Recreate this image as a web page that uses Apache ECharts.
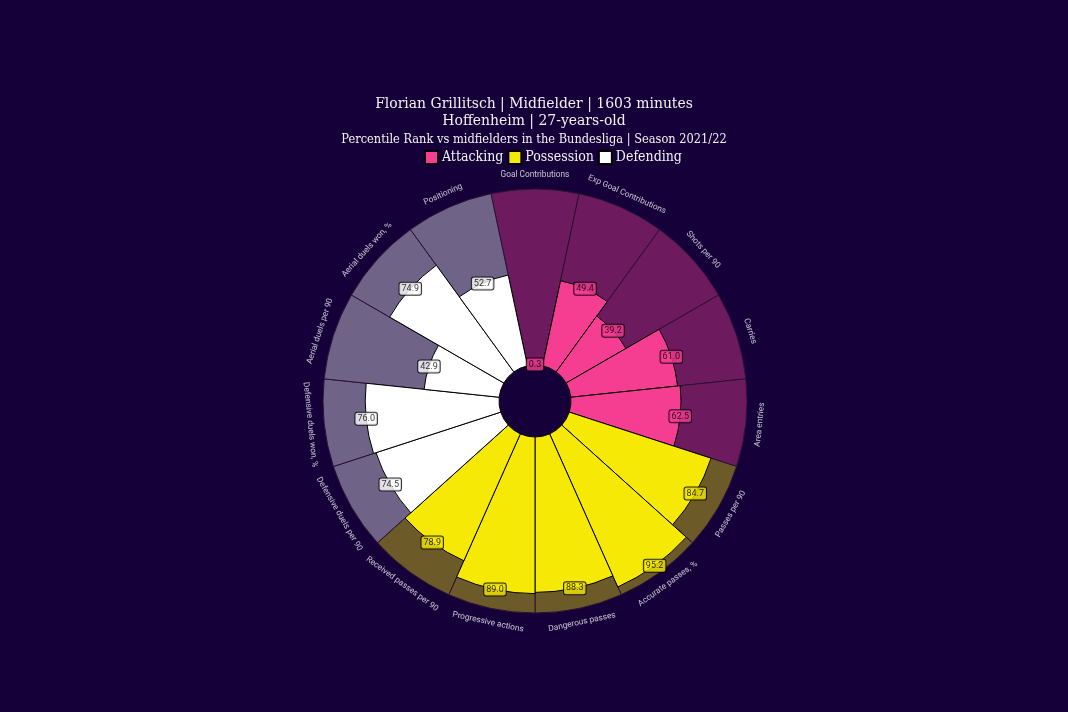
<!DOCTYPE html>
<html>
<head>
<meta charset="utf-8">
<script src="https://cdn.jsdelivr.net/npm/echarts@6/dist/echarts.min.js"></script>
<style>
html,body{margin:0;padding:0;background:#15003a;}
#chart{width:1068px;height:712px;}
</style>
</head>
<body>
<div id="chart"></div>
<script>
const categories = ['Goal Contributions','Exp Goal Contributions','Shots per 90','Carries','Area entries',
  'Passes per 90','Accurate passes, %','Dangerous passes','Progressive actions','Received passes per 90',
  'Defensive duels per 90','Defensive duels won, %','Aerial duels per 90','Aerial duels won, %','Positioning'];
const values = [0.3, 49.4, 39.2, 61.0, 62.5, 84.7, 95.2, 88.3, 89.0, 78.9, 74.5, 76.0, 42.9, 74.9, 52.7];
const groups = ['Attacking','Attacking','Attacking','Attacking','Attacking',
  'Possession','Possession','Possession','Possession','Possession',
  'Defending','Defending','Defending','Defending','Defending'];
const groupNames = ['Attacking','Possession','Defending'];
const titleLine1 = 'Florian Grillitsch | Midfielder | 1603 minutes';
const titleLine2 = 'Hoffenheim | 27-years-old';
const subtitle = 'Percentile Rank vs midfielders in the Bundesliga | Season 2021/22';

const BG = '#15003a';
const mainColor = {Attacking:'#f53d92', Possession:'#f6e906', Defending:'#ffffff'};
const backColor = {Attacking:'#6d1a5e', Possession:'#6c5a28', Defending:'#6f6488'};
const serif = "'DejaVu Serif Condensed','DejaVu Serif',serif";

const chart = echarts.init(document.getElementById('chart'), null, {renderer:'canvas'});

const n = categories.length;
const step = 360 / n;

const bgSeries = {
  type:'bar', coordinateSystem:'polar', name:'bg', z:1, silent:true,
  barCategoryGap:'0%', barGap:'-100%',
  data: categories.map((c,i)=>({value:100, itemStyle:{color:backColor[groups[i]], borderColor:'#2a1233', borderWidth:1}}))
};
const valSeries = groupNames.map(g=>({
  type:'bar', coordinateSystem:'polar', name:g, stack:'v', z:2, silent:true,
  barCategoryGap:'0%', barGap:'-100%',
  itemStyle:{color:mainColor[g], borderColor:'#000000', borderWidth:1},
  data: values.map((v,i)=> groups[i]===g ? v : '-')
}));

const valueLabels = {
  type:'scatter', coordinateSystem:'polar', z:5, silent:true, clip:false,
  symbolSize:0.01, itemStyle:{color:'rgba(0,0,0,0)'},
  data: values.map((v,i)=>({
    value:[v, categories[i]],
    label:{show:true, position:'inside', formatter: v.toFixed(1),
      fontSize:9, fontFamily:'Roboto', color:'#000',
      backgroundColor:mainColor[groups[i]], borderColor:'#000', borderWidth:1, borderRadius:2,
      padding:[2,2,1,2]}
  }))
};

function rot(i){
  const theta = 90 - step*i;
  let r = theta - 90;
  while (r <= -180) r += 360;
  while (r > 180) r -= 360;
  if (r < -90) r += 180;
  if (r > 90) r -= 180;
  return r;
}
const catLabels = {
  type:'scatter', coordinateSystem:'polar', z:5, silent:true, clip:false,
  symbolSize:0.01, itemStyle:{color:'rgba(0,0,0,0)'},
  data: categories.map((c,i)=>({
    value:[108, c],
    label:{show:true, position:'inside', formatter:c, rotate:rot(i),
      fontSize:8.3, fontFamily:'Roboto', color:'#f2f2f6'}
  }))
};

chart.setOption({
  backgroundColor: BG,
  animation:false,
  title:[
    {text: titleLine1 + '\n' + titleLine2, left:'center', top:90,
     textStyle:{color:'#f2f2f2', fontFamily:serif, fontSize:15.5, fontWeight:'normal', lineHeight:17}},
    {text: subtitle, left:'center', top:128,
     textStyle:{color:'#f2f2f2', fontFamily:serif, fontSize:12.7, fontWeight:'normal'}}
  ],
  legend:{
    data: groupNames.map(g=>({name:g, icon:'rect'})),
    left:424, top:150, padding:0, itemWidth:13, itemHeight:13, itemGap:4,
    textStyle:{color:'#f2f2f2', fontFamily:serif, fontSize:14, padding:[0,0,0,-1]},
    selectedMode:false
  },
  polar:{center:[535,401], radius:[36,212]},
  angleAxis:{type:'category', data:categories, startAngle:90+step/2, clockwise:true,
    axisLine:{show:false}, axisTick:{show:false}, axisLabel:{show:false}, splitLine:{show:false}},
  radiusAxis:{type:'value', min:0, max:100,
    axisLine:{show:false}, axisTick:{show:false}, axisLabel:{show:false}, splitLine:{show:false}},
  series:[bgSeries].concat(valSeries, [valueLabels, catLabels])
});
</script>
</body>
</html>
